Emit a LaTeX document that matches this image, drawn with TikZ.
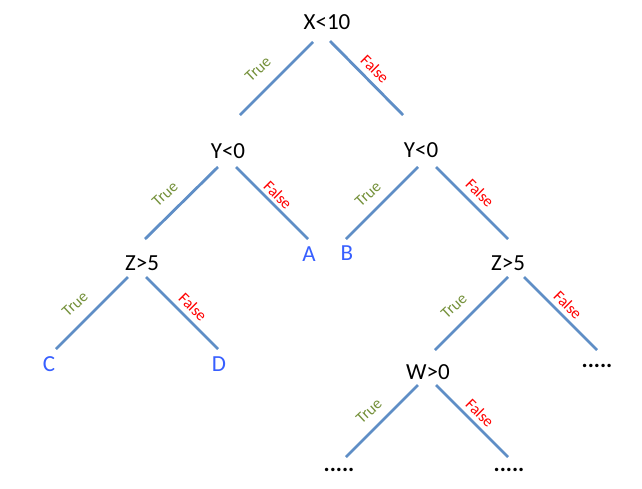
\documentclass[tikz,border=0pt]{standalone}
\usepackage{fontspec}
\setmainfont{Carlito}
\usetikzlibrary{calc}
\definecolor{edgeblue}{RGB}{95,142,198}
\definecolor{leafblue}{RGB}{55,95,255}
\definecolor{truegreen}{RGB}{118,146,60}
\definecolor{falsered}{RGB}{255,0,0}
\tikzset{
  test/.style={font=\fontsize{23}{27}\selectfont, text=black, inner sep=0pt},
  leaf/.style={font=\fontsize{23}{27}\selectfont, text=leafblue, inner sep=0pt},
  dots/.style={font=\fontsize{23}{27}\selectfont\bfseries, text=black, inner sep=0pt},
  edge/.style={draw=edgeblue, line width=2.8pt},
  tlab/.style={font=\fontsize{16}{18}\selectfont, text=truegreen, rotate=43, inner sep=0pt},
  flab/.style={font=\fontsize{16}{18}\selectfont, text=falsered, rotate=-45, inner sep=0pt}
}
\begin{document}
\begin{tikzpicture}[x=1pt,y=-1pt]
\useasboundingbox[fill=white] (0,0) rectangle (642,488);
% nodes
\node[test] (X) at (327,22) {X<10};
\node[test] (YL) at (228,151) {Y<0};
\node[test] (YR) at (421,150) {Y<0};
\node[test] (ZL) at (142,263) {Z>5};
\node[test] (ZR) at (508,263) {Z>5};
\node[test] (W) at (428,372) {W>0};
\node[leaf] (A) at (309,254) {A};
\node[leaf] (B) at (347,253) {B};
\node[leaf] (C) at (49,364) {C};
\node[leaf] (D) at (219,364) {D};
\node[dots] (R) at (597,366) {.....};
\node[dots] (BL) at (339,470) {.....};
\node[dots] (BR) at (509,470) {.....};
% edges
\draw[edge] ($(X)+(-14,20)$) -- ($(YL)+(12,-36)$);
\draw[edge] ($(X)+(3,19)$) -- ($(YR)+(-18,-35)$);
\draw[edge] ($(YL)+(-10,16)$) -- ($(ZL)+(3,-24)$);
\draw[edge] ($(YL)+(8,16)$) -- ($(A)+(-1,-15)$);
\draw[edge] ($(YR)+(-3,17)$) -- ($(B)+(-1,-14)$);
\draw[edge] ($(YR)+(15,17)$) -- ($(ZR)+(0,-24)$);
\draw[edge] ($(ZL)+(-14,14)$) -- ($(C)+(7,-15)$);
\draw[edge] ($(ZL)+(4,14)$) -- ($(D)+(-1,-15)$);
\draw[edge] ($(ZR)+(0,14)$) -- ($(W)+(7,-22)$);
\draw[edge] ($(ZR)+(16,14)$) -- ($(R)+(0,-16)$);
\draw[edge] ($(W)+(-10,13)$) -- ($(BL)+(7,-13)$);
\draw[edge] ($(W)+(8,13)$) -- ($(BR)+(-1,-13)$);
% labels
\node[tlab] (t1) at (258,69) {True};
\node[flab] (f1) at (375,69) {False};
\node[tlab] (t2) at (165,194) {True};
\node[flab] (f2) at (278,195) {False};
\node[tlab] (t3) at (368,194) {True};
\node[flab] (f3) at (480,193) {False};
\node[tlab] (t4) at (75,304) {True};
\node[flab] (f4) at (193,307) {False};
\node[tlab] (t5) at (454,306) {True};
\node[flab] (f5) at (568,305) {False};
\node[tlab] (t6) at (369,411) {True};
\node[flab] (f6) at (480,413) {False};
\end{tikzpicture}
\end{document}
